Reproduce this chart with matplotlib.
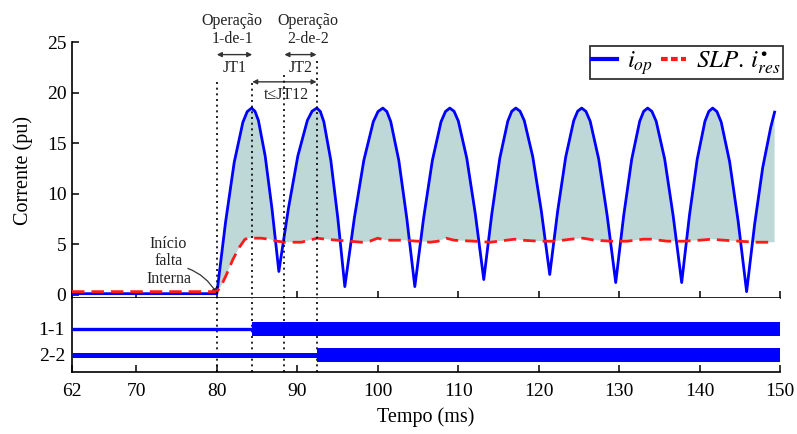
import numpy as np
import matplotlib
matplotlib.use("Agg")
import matplotlib.pyplot as plt
from matplotlib.lines import Line2D

plt.rcParams['font.family'] = ['Liberation Serif', 'DejaVu Serif']
plt.rcParams['mathtext.fontset'] = 'stix'

# ---------------- data ----------------
# operating current i_op (pu) vs time (ms)
t_op = [62.0, 80.0, 81.08, 82.16, 83.24, 83.78, 84.32,
        84.74, 85.17, 86.01, 86.86, 87.71,
        88.89, 90.07, 91.25, 91.84, 92.43,
        92.87, 93.30, 94.17, 95.04, 95.91,
        97.09, 98.27, 99.45, 100.04, 100.63,
        101.13, 101.62, 102.62, 103.61, 104.61,
        105.70, 106.79, 107.87, 108.42, 108.96,
        109.49, 110.02, 111.07, 112.13, 113.18,
        114.18, 115.17, 116.17, 116.66, 117.16,
        117.69, 118.22, 119.27, 120.33, 121.38,
        122.37, 123.37, 124.36, 124.85, 125.35,
        125.88, 126.41, 127.47, 128.52, 129.58,
        130.57, 131.57, 132.56, 133.05, 133.55,
        134.08, 134.61, 135.67, 136.72, 137.78,
        138.74, 139.71, 140.67, 141.15, 141.63,
        142.16, 142.69, 143.74, 144.80, 145.85,
        146.85, 147.85, 148.85, 149.33]
i_op = [0.1, 0.1, 7.15, 13.11, 17.10, 18.15, 18.5,
        18.19, 17.27, 13.75, 8.50, 2.3,
        8.50, 13.75, 17.27, 18.19, 18.5,
        18.16, 17.15, 13.31, 7.58, 0.8,
        7.58, 13.31, 17.15, 18.16, 18.5,
        18.16, 17.15, 13.31, 7.58, 0.8,
        7.58, 13.31, 17.15, 18.16, 18.5,
        18.18, 17.21, 13.52, 8.01, 1.5,
        8.01, 13.52, 17.21, 18.18, 18.5,
        18.19, 17.25, 13.67, 8.32, 2.0,
        8.32, 13.67, 17.25, 18.19, 18.5,
        18.17, 17.19, 13.43, 7.83, 1.2,
        7.83, 13.43, 17.19, 18.17, 18.5,
        18.17, 17.19, 13.43, 7.83, 1.2,
        7.83, 13.43, 17.19, 18.17, 18.5,
        18.15, 17.12, 13.17, 7.27, 0.3,
        7.0, 12.6, 16.6, 18.1]

# restraint threshold SLP.i_res (pu)
t_slp = [62.0, 80.0, 80.5, 81.2, 82.0, 82.8, 83.5, 84.0, 85.5, 86.5, 87.5, 88.5,
         89.5, 90.5, 91.5, 92.5, 93.5, 95.0, 96.5, 98.0, 99.0, 100.0, 101.0,
         103.0, 105.0, 106.5, 107.5, 108.5, 109.5, 112.0, 114.0, 116.0, 117.0,
         118.0, 120.0, 122.0, 124.0, 125.5, 127.0, 129.0, 131.0, 133.0, 134.0,
         136.0, 138.0, 140.0, 141.5, 143.0, 145.0, 147.0, 149.3]
i_slp = [0.3, 0.3, 0.8, 2.0, 3.5, 4.7, 5.5, 5.6, 5.6, 5.5, 5.3, 5.2,
         5.2, 5.2, 5.4, 5.6, 5.5, 5.4, 5.3, 5.2, 5.3, 5.6, 5.4,
         5.4, 5.3, 5.2, 5.3, 5.6, 5.4, 5.3, 5.2, 5.4, 5.5,
         5.4, 5.3, 5.3, 5.5, 5.6, 5.4, 5.3, 5.3, 5.5, 5.5,
         5.3, 5.3, 5.4, 5.5, 5.4, 5.3, 5.2, 5.2]

# trip signals
signal_labels = ['1-1', '2-2']
signal_levels = [1, 0]
trip_times = [84.4, 92.4]

# event markers
fault_time = 80.0
event_times = [80.0, 84.4, 88.4, 92.4]
event_tops = [21.1, 21.0, 21.8, 23.2]

y_ticks = [0, 5, 10, 15, 20, 25]
x_ticks = [62, 70, 80, 90, 100, 110, 120, 130, 140, 150]

# ---------------- figure ----------------
W, H = 797, 434
fig = plt.figure(figsize=(W / 100, H / 100), dpi=100)

def fx(px):
    return px / W

def fy(py):
    return 1 - py / H

x_left, x_right = 72, 780
ax1 = fig.add_axes([fx(x_left), fy(297.7), fx(x_right - x_left), (297.7 - 42.5) / H])
ax2 = fig.add_axes([fx(x_left), fy(372), fx(x_right - x_left), (372 - 297.7) / H], sharex=ax1)

blue = '#0000ff'
red = '#ff1a1a'
fillc = '#bdd8d6'
txtc = '#222222'

# fill between i_op and threshold
grid = np.linspace(fault_time, t_op[-1], 4000)
op_g = np.interp(grid, t_op, i_op)
slp_g = np.interp(grid, t_slp, i_slp)
ax1.fill_between(grid, op_g, slp_g, where=op_g > slp_g, interpolate=True,
                 color=fillc, lw=0, zorder=1)

ax1.plot(t_op, i_op, color=blue, lw=2.0, zorder=3, solid_joinstyle='round')
ax1.plot(t_slp, i_slp, color=red, lw=2.0, zorder=4, dashes=(4.5, 2.5))

ax1.set_xlim(62, 150)
ax1.set_ylim(-0.3, 25)
ax1.set_yticks(y_ticks)
ax1.set_xticks(x_ticks)
ax1.tick_params(axis='x', labelbottom=False, direction='in', length=5, width=1.1)
ax1.tick_params(axis='y', direction='in', length=5, width=1.1, labelsize=14, pad=4)
for s in ['top', 'right']:
    ax1.spines[s].set_visible(False)
for s in ['left', 'bottom']:
    ax1.spines[s].set_linewidth(1.2)
ax1.set_ylabel('Corrente (pu)', fontsize=14.5, labelpad=10)

# event dotted lines
for xe, ytop in zip(event_times, event_tops):
    ax1.plot([xe, xe], [ytop, -0.3], color='black', lw=1.2, ls=(0, (1.2, 2.2)),
             zorder=5, clip_on=False)
    ax2.axvline(xe, color='black', lw=1.2, ls=(0, (1.2, 2.2)), zorder=1)

# annotations above
ann_kw = dict(ha='center', va='center', fontsize=11.5, color=txtc)
ax1.text(81.9, 27.1, 'Operação', clip_on=False, **ann_kw)
ax1.text(81.9, 25.3, '1-de-1', clip_on=False, **ann_kw)
ax1.text(91.3, 27.1, 'Operação', clip_on=False, **ann_kw)
ax1.text(91.3, 25.3, '2-de-2', clip_on=False, **ann_kw)

arr = dict(arrowstyle='<|-|>', color='#333333', lw=1.0, mutation_scale=7,
           shrinkA=0, shrinkB=0)
ax1.annotate('', xy=(event_times[0], 23.8), xytext=(event_times[1], 23.8), arrowprops=arr)
ax1.annotate('', xy=(event_times[2], 23.8), xytext=(event_times[3], 23.8), arrowprops=arr)
ax1.annotate('', xy=(event_times[1], 21.1), xytext=(event_times[3], 21.1), arrowprops=arr)
ax1.text(82.2, 22.5, 'JT1', **ann_kw)
ax1.text(90.4, 22.5, 'JT2', **ann_kw)
ax1.text(88.6, 19.8, 't≤JT12', **ann_kw)

ax1.text(74.0, 3.3, 'Início\nfalta\nInterna', ha='center', va='center',
         fontsize=11.5, color=txtc, linespacing=1.15)
ax1.annotate('', xy=(fault_time, 0.1), xytext=(76.4, 2.6),
             arrowprops=dict(arrowstyle='-|>', color='#333333', lw=0.9,
                             mutation_scale=7, shrinkA=0, shrinkB=0,
                             connectionstyle='angle3,angleA=-20,angleB=-60'))

# legend
h1 = Line2D([], [], color=blue, lw=3.0)
h2 = Line2D([], [], color=red, lw=3.0, dashes=(1.6, 0.8))
leg = ax1.legend([h1, h2], [r'$i_{op}$', r'$SLP.\,i^{\bullet}_{res}$'],
                 loc='upper right', bbox_to_anchor=(1.004, 0.985), ncol=2,
                 fontsize=18, handlelength=1.0, handletextpad=0.4,
                 columnspacing=0.3, borderpad=0.1, borderaxespad=0,
                 fancybox=False, framealpha=1)
leg.get_frame().set_edgecolor('#333333')
leg.get_frame().set_linewidth(1.3)

# lower panel: trip signals
half_band = 0.257
thin_lw = [2.4, 3.6]
for lvl, tt, lw in zip(signal_levels, trip_times, thin_lw):
    ax2.plot([62, tt], [lvl, lvl], color=blue, lw=lw, solid_capstyle='butt', zorder=3)
    ax2.fill_between([tt, 150], lvl - half_band, lvl + half_band, color=blue,
                     lw=0, zorder=3)

ax2.set_ylim(-0.654, 2.203)
ax2.set_yticks(signal_levels)
ax2.set_yticklabels(signal_labels)
ax2.set_xticks(x_ticks)
ax2.tick_params(axis='x', direction='in', length=5, width=1.1, labelsize=14, pad=8)
ax2.tick_params(axis='y', length=0, labelsize=14, pad=5)
for s in ['top', 'right']:
    ax2.spines[s].set_visible(False)
for s in ['left', 'bottom']:
    ax2.spines[s].set_linewidth(1.2)
ax2.set_xlabel('Tempo (ms)', fontsize=14.5, labelpad=5)

fig.savefig('out.png', dpi=100)
